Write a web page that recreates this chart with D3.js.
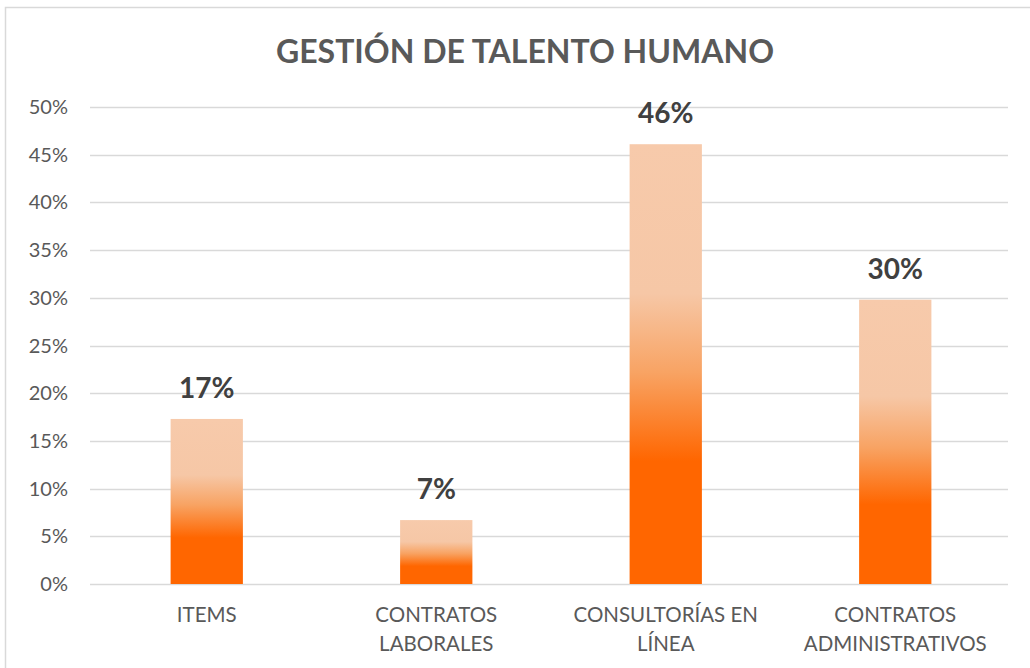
<!DOCTYPE html>
<html lang="en">
<head>
    <meta charset="UTF-8">
    <title>Gestión de talento humano</title>
    <script src="https://d3js.org/d3.v7.min.js"></script>
    <style>
        body { margin: 0; background: #fff; }
        svg { display: block; font-family: Lato, "Open Sans", sans-serif; }
        .grid line { stroke: #d9d9d9; stroke-width: 1.5; }
        .ytick { fill: #595959; font-size: 20px; }
        .xlab { fill: #595959; font-size: 20.5px; }
        .vlab { fill: #404040; font-size: 28px; font-weight: bold; }
        .title { fill: #595959; font-size: 32px; font-weight: bold; }
    </style>
</head>
<body>
<script>
    const width = 1030;
    const height = 668;

    // data
    const categories = [["ITEMS"], ["CONTRATOS", "LABORALES"], ["CONSULTORÍAS EN", "LÍNEA"], ["CONTRATOS", "ADMINISTRATIVOS"]];
    const values = [0.173, 0.067, 0.461, 0.298];
    const valueLabels = ["17%", "7%", "46%", "30%"];
    const yTicks = [0, 0.05, 0.10, 0.15, 0.20, 0.25, 0.30, 0.35, 0.40, 0.45, 0.50];

    const margin = {left: 92, right: 20, top: 107, bottom: 84};

    const svg = d3.select("body").append("svg")
            .attr("width", width).attr("height", height);

    // chart border
    svg.append("rect")
        .attr("x", 5.5).attr("y", 7.5)
        .attr("width", width + 10).attr("height", height + 10)
        .attr("fill", "none").attr("stroke", "#d9d9d9").attr("stroke-width", 1.5);

    const x = d3.scaleBand()
        .domain(d3.range(categories.length))
        .range([margin.left, width - margin.right])
        .paddingInner(0.685).paddingOuter(0.3425);

    const y = d3.scaleLinear()
        .domain([0, 0.5])
        .range([height - margin.bottom, margin.top]);

    // gradient
    const grad = svg.append("defs").append("linearGradient")
        .attr("id", "barGrad")
        .attr("x1", 0).attr("y1", 0).attr("x2", 0).attr("y2", 1);
    grad.append("stop").attr("offset", "0%").attr("stop-color", "#f7caab");
    grad.append("stop").attr("offset", "34%").attr("stop-color", "#f6c7a6");
    grad.append("stop").attr("offset", "52%").attr("stop-color", "#f8a363");
    grad.append("stop").attr("offset", "72%").attr("stop-color", "#ff6600");
    grad.append("stop").attr("offset", "100%").attr("stop-color", "#ff6600");

    // gridlines
    svg.append("g").attr("class", "grid")
        .selectAll("line").data(yTicks).enter()
        .append("line")
        .attr("x1", 90).attr("x2", 1008)
        .attr("y1", d => Math.round(y(d)) + 0.5).attr("y2", d => Math.round(y(d)) + 0.5);

    svg.append("g")
        .selectAll("text").data(yTicks).enter()
        .append("text")
        .attr("class", "ytick")
        .attr("x", 68).attr("y", d => y(d))
        .attr("dy", "0.35em")
        .attr("text-anchor", "end")
        .text(d => d3.format(".0%")(d));

    // bars
    svg.append("g")
        .selectAll("rect").data(values).enter()
        .append("rect")
        .attr("x", (d, i) => x(i))
        .attr("y", d => y(d))
        .attr("width", x.bandwidth())
        .attr("height", d => y(0) - y(d))
        .attr("fill", "url(#barGrad)");

    // value labels
    svg.append("g")
        .selectAll("text").data(values).enter()
        .append("text")
        .attr("class", "vlab")
        .attr("x", (d, i) => x(i) + x.bandwidth() / 2)
        .attr("y", d => y(d) - 21)
        .attr("text-anchor", "middle")
        .text((d, i) => valueLabels[i]);

    // category labels
    const xl = svg.append("g")
        .selectAll("text").data(categories).enter()
        .append("text")
        .attr("class", "xlab")
        .attr("x", (d, i) => x(i) + x.bandwidth() / 2)
        .attr("y", 622)
        .attr("text-anchor", "middle");
    xl.each(function(d) {
        const t = d3.select(this);
        d.forEach((line, j) => {
            t.append("tspan")
                .attr("x", t.attr("x"))
                .attr("dy", j === 0 ? 0 : 29)
                .text(line);
        });
    });

    svg.append("text")
        .attr("class", "title")
        .attr("x", 525).attr("y", 63)
        .attr("text-anchor", "middle")
        .text("GESTIÓN DE TALENTO HUMANO");
</script>
</body>
</html>
